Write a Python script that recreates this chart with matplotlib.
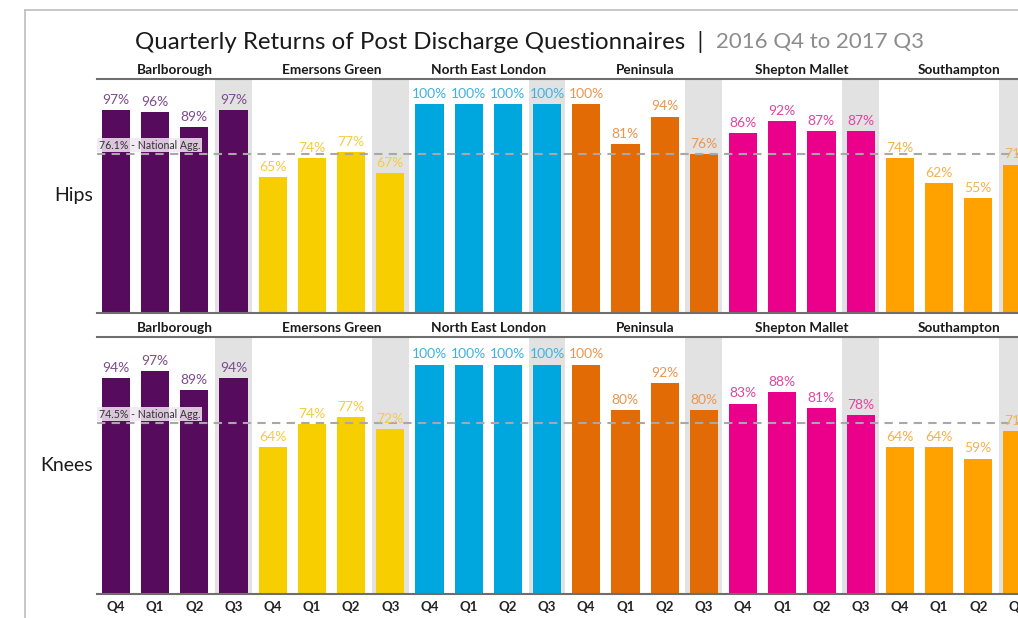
import matplotlib
matplotlib.use("Agg")
import matplotlib.pyplot as plt
from matplotlib.lines import Line2D
import numpy as np

plt.rcParams['font.family'] = ['Lato', 'DejaVu Sans']

facilities = ["Barlborough", "Emersons Green", "North East London",
              "Peninsula", "Shepton Mallet", "Southampton"]
quarters = ["Q4", "Q1", "Q2", "Q3"]

hips = [97, 96, 89, 97,
        65, 74, 77, 67,
        100, 100, 100, 100,
        100, 81, 94, 76,
        86, 92, 87, 87,
        74, 62, 55, 71]
knees = [94, 97, 89, 94,
         64, 74, 77, 72,
         100, 100, 100, 100,
         100, 80, 92, 80,
         83, 88, 81, 78,
         64, 64, 59, 71]
hips_nat = 76.1
knees_nat = 74.5

bar_cols = ["#570B5C", "#F7CE00", "#00A6DE", "#E36B05", "#EB008B", "#FFA200"]
lbl_cols = ["#7D4B8C", "#F6CB45", "#3DB2E2", "#EA9650", "#E3449F", "#F3B24F"]

n = len(facilities) * len(quarters)
x = np.arange(n)
top = 112

fig = plt.figure(figsize=(10.18, 6.18), dpi=100)

# frame lines of the original screenshot
fig.add_artist(Line2D([25 / 1018, 25 / 1018], [0, 1 - 10 / 618],
                      color="#BDBDBD", lw=1.2, transform=fig.transFigure))
fig.add_artist(Line2D([25 / 1018, 1], [1 - 10 / 618, 1 - 10 / 618],
                      color="#BDBDBD", lw=1.2, transform=fig.transFigure))

fig.text(703 / 1018, 1 - 42 / 618, "Quarterly Returns of Post Discharge Questionnaires  |",
         ha="right", va="center", fontsize=17.3, color="#1A1A1A")
fig.text(716 / 1018, 1 - 42 / 618, "2016 Q4 to 2017 Q3",
         ha="left", va="center", fontsize=16.0, color="#8C8C8C")

ax_w = 24 * 39.2 / 1018
ax1 = fig.add_axes([97 / 1018, 1 - 313 / 618, ax_w, 234 / 618])
ax2 = fig.add_axes([97 / 1018, 1 - 594 / 618, ax_w, 257 / 618])


def draw_panel(ax, vals, nat, name, show_ticks):
    ax.set_xlim(-0.48, n - 0.48)
    ax.set_ylim(0, top)
    for i in range(3, n, 4):
        ax.axvspan(i - 0.47, i + 0.47, color="#E2E2E2", lw=0, zorder=0)
    cols = [bar_cols[i // 4] for i in range(n)]
    bars = ax.bar(x, vals, 0.72, color=cols, zorder=2)
    for i, b in enumerate(bars):
        ax.annotate("%d%%" % vals[i], (b.get_x() + b.get_width() / 2, b.get_height()),
                    xytext=(0, 3), textcoords="offset points", ha="center",
                    va="bottom", fontsize=10, color=lbl_cols[i // 4], zorder=4)
    ax.axhline(nat, color="#A8A8A8", lw=1.5, ls=(0, (4, 3)), zorder=3)
    ax.text(-0.44, nat + 1.5, "%.1f%% - National Agg." % nat, fontsize=7.6,
            color="#333333", va="bottom", ha="left", zorder=5,
            bbox=dict(boxstyle="square,pad=0.15", fc="#F2E8F2", ec="none", alpha=0.85))
    for k, f in enumerate(facilities):
        ax.text(4 * k + 1.5, top + 1.5, f, ha="center", va="bottom",
                fontsize=9.8, fontweight="bold", color="#1A1A1A")
    for s in ["left", "right"]:
        ax.spines[s].set_visible(False)
    ax.spines["top"].set_color("#6E6E6E")
    ax.spines["top"].set_linewidth(1.5)
    ax.spines["bottom"].set_color("#6E6E6E")
    ax.spines["bottom"].set_linewidth(1.5)
    ax.set_yticks([])
    ax.set_xticks(x)
    if show_ticks:
        ax.set_xticklabels(quarters * len(facilities), fontsize=9.5,
                           fontweight="bold", color="#222222")
        ax.tick_params(axis="x", length=0, pad=5)
    else:
        ax.tick_params(axis="x", length=0, labelbottom=False)
    ax.text(-0.004, 0.5, name, transform=ax.transAxes, ha="right",
            va="center", fontsize=14, color="#1A1A1A")


draw_panel(ax1, hips, hips_nat, "Hips", False)
draw_panel(ax2, knees, knees_nat, "Knees", True)

fig.savefig("out.png", dpi=100)
